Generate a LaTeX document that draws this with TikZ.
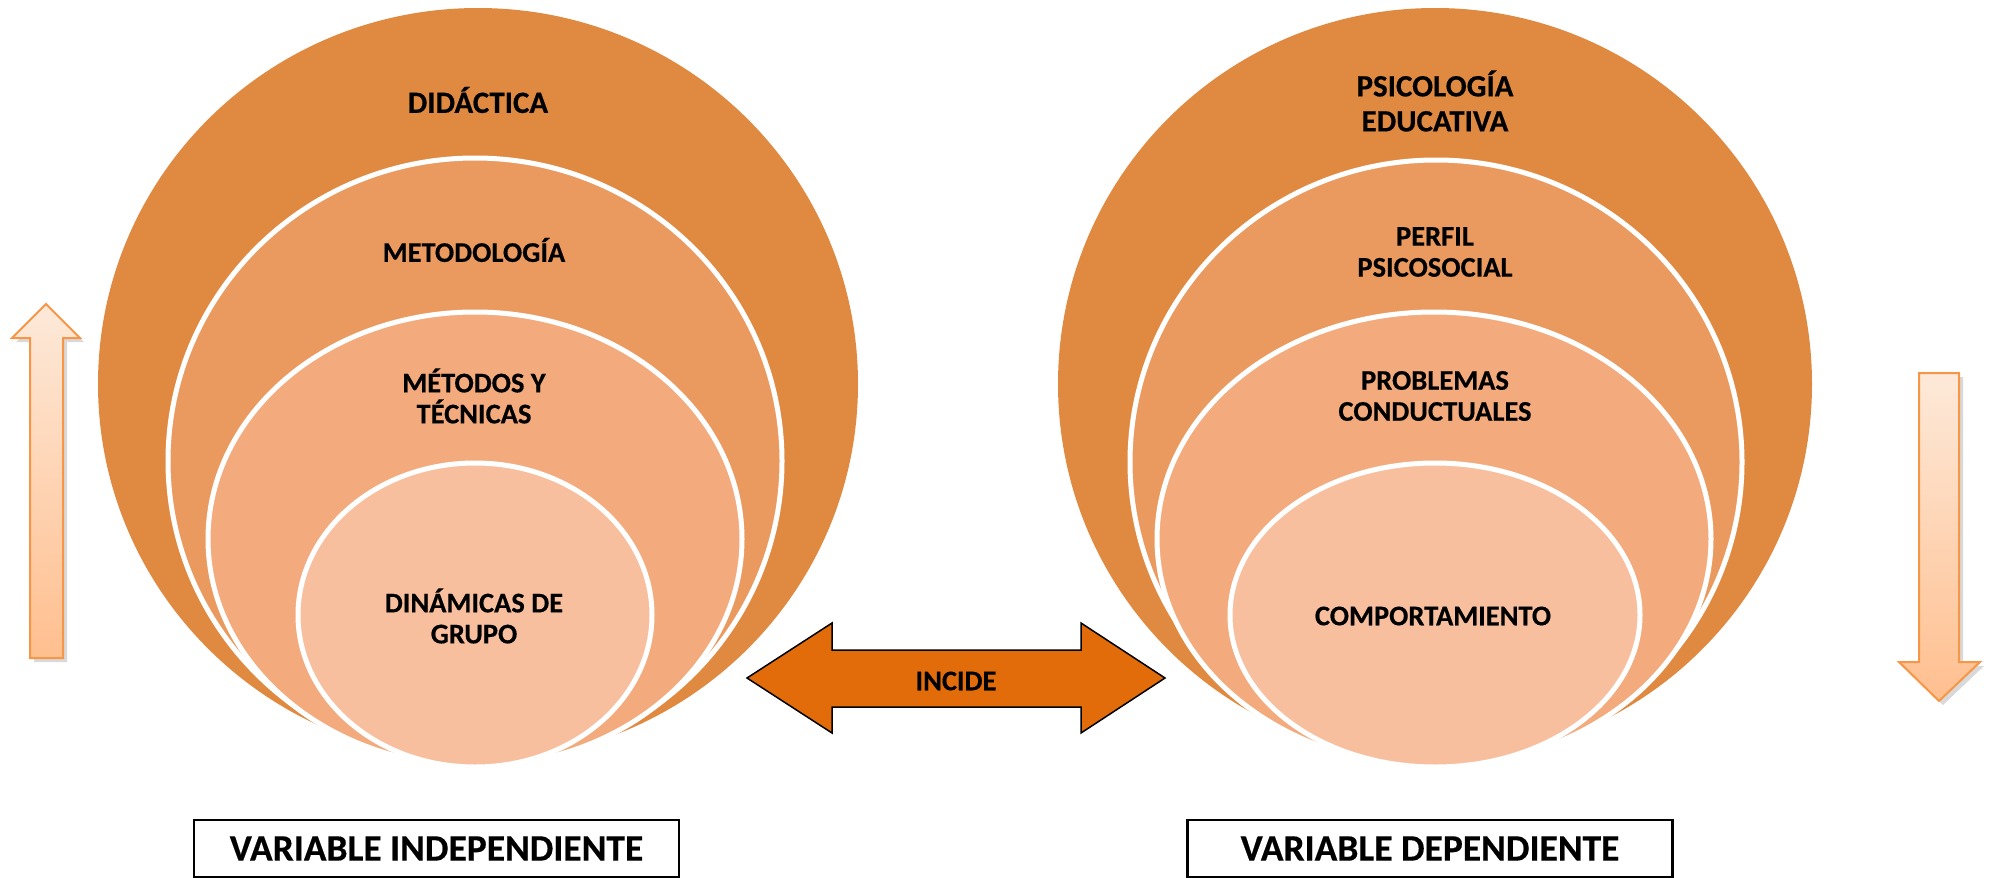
\documentclass[tikz,border=0pt]{standalone}
\usepackage{fontspec}
\setmainfont[BoldFeatures={FakeBold=0.4}]{Carlito}
\definecolor{cA}{HTML}{E08A41}
\definecolor{cB}{HTML}{EB9A5F}
\definecolor{cC}{HTML}{F3AA7C}
\definecolor{cD}{HTML}{F8BF9E}
\definecolor{arrowc}{HTML}{E36C0A}
\definecolor{arrowb}{HTML}{F79646}
\definecolor{ltop}{HTML}{FDE9D9}
\definecolor{lbot}{HTML}{FFBF8F}
\begin{document}
\begin{tikzpicture}[x=1pt,y=-1pt]
\useasboundingbox (0,0) rectangle (1990,878);
\tikzset{
 lvl/.style={draw=white,line width=5pt},
 ttl/.style={font=\fontsize{31}{35}\selectfont\bfseries,align=center,inner sep=0pt},
 lbl/.style={font=\fontsize{28.5}{31}\selectfont\bfseries,align=center,inner sep=0pt},
 varbox/.style={draw=black,line width=2.5pt,minimum width=485pt,minimum height=57pt,font=\fontsize{37.5}{40}\selectfont\bfseries,inner sep=0pt},
 vshadow/.style={fill=black,opacity=0.15,draw=none},
 varrow/.style={draw=arrowb,line width=2pt,top color=ltop,bottom color=lbot,line join=miter},
}
% left set
\fill[cA] (478,384) ellipse [x radius=380, y radius=376];
\draw[lvl,fill=cB] (475,461) ellipse [x radius=307, y radius=303];
\draw[lvl,fill=cC] (475,539) ellipse [x radius=267, y radius=227];
\draw[lvl,fill=cD] (475,615) ellipse [x radius=177, y radius=152];
% right set
\fill[cA] (1435,384) ellipse [x radius=377, y radius=376];
\draw[lvl,fill=cB] (1436,462) ellipse [x radius=306, y radius=302];
\draw[lvl,fill=cC] (1434,539) ellipse [x radius=277, y radius=227];
\draw[lvl,fill=cD] (1435,615) ellipse [x radius=205, y radius=152];
% texts
\node[ttl] (didactica) at (478,100) {DIDÁCTICA};
\node[lbl] (metodologia) at (474,250) {METODOLOGÍA};
\node[lbl] (metodos) at (474,396) {MÉTODOS Y\\TÉCNICAS};
\node[lbl] (dinamicas) at (474,616) {DINÁMICAS DE\\GRUPO};
\node[ttl] (psico) at (1435,101) {PSICOLOGÍA\\EDUCATIVA};
\node[lbl] (perfil) at (1435,252) {PERFIL\\PSICOSOCIAL};
\node[lbl] (problemas) at (1435,396) {PROBLEMAS\\CONDUCTUALES};
\node[lbl] (comport) at (1433,616) {COMPORTAMIENTO};
% double arrow
\draw[black,line width=1.5pt,fill=arrowc,line join=miter] (747,678) -- (832,623) -- (832,650) -- (1081,650) -- (1081,623) -- (1165,678) -- (1081,733) -- (1081,707) -- (832,707) -- (832,733) -- cycle;
\node[lbl] (incide) at (956,681) {INCIDE};
% vertical arrows
\fill[vshadow] (50,308) -- (84,342) -- (67,342) -- (67,662) -- (34,662) -- (34,342) -- (16,342) -- cycle;
\draw[varrow] (46,304) -- (80,338) -- (63,338) -- (63,658) -- (30,658) -- (30,338) -- (12,338) -- cycle;
\fill[vshadow] (1943,705) -- (1984,666) -- (1963,666) -- (1963,377) -- (1923,377) -- (1923,666) -- (1903,666) -- cycle;
\draw[varrow] (1939,701) -- (1980,662) -- (1959,662) -- (1959,373) -- (1919,373) -- (1919,662) -- (1899,662) -- cycle;
% boxes
\node[varbox] (vi) at (436.5,848.5) {VARIABLE INDEPENDIENTE};
\node[varbox] (vd) at (1430,848.5) {VARIABLE DEPENDIENTE};
\end{tikzpicture}
\end{document}
